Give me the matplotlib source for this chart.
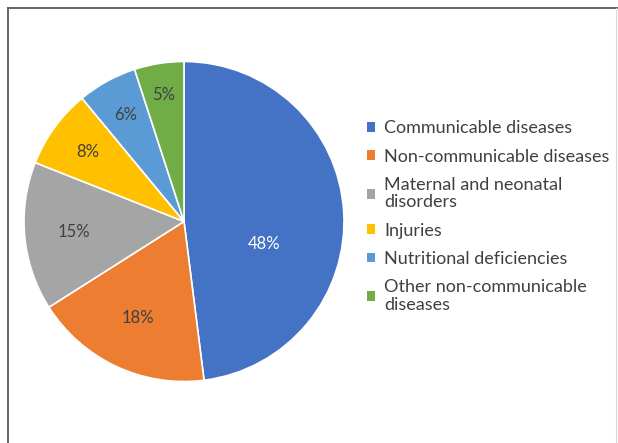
import numpy as np
import matplotlib.pyplot as plt
from matplotlib.patches import Patch
from matplotlib.lines import Line2D

plt.rcParams['font.family'] = ['Lato', 'DejaVu Sans']

categories = ['Communicable diseases', 'Non-communicable diseases',
              'Maternal and neonatal\ndisorders', 'Injuries',
              'Nutritional deficiencies', 'Other non-communicable\ndiseases']
shares = [48, 18, 15, 8, 6, 5]
colors = ['#4472C4', '#ED7D31', '#A5A5A5', '#FFC000', '#5B9BD5', '#70AD47']

fig = plt.figure(figsize=(6.18, 4.43), dpi=100)

# outer frame (top and left lines like the source)
fig.add_artist(Line2D([8/618, 8/618], [0, 1 - 8/443], color='#595959', lw=1.3))
fig.add_artist(Line2D([8/618, 1], [1 - 8/443, 1 - 8/443], color='#595959', lw=1.3))
fig.add_artist(Line2D([616/618, 616/618], [0, 1 - 8/443], color='#d9d9d9', lw=0.8))

ax = fig.add_axes([24/618, (443 - 381.5)/443, 320/618, 320/443])
wedges, texts = ax.pie(shares, colors=colors, startangle=90, counterclock=False,
                       wedgeprops=dict(edgecolor='white', linewidth=1.2))
ax.set_xlim(-1, 1)
ax.set_ylim(-1, 1)
ax.set_aspect('equal')

# label placement, roughly like Excel's best fit
dists = [0.5, 0.67, 0.69, 0.74, 0.76, 0.8]
for w, s, d in zip(wedges, shares, dists):
    ang = np.deg2rad((w.theta1 + w.theta2) / 2)
    x, y = d * np.cos(ang), d * np.sin(ang)
    if s == 48:
        y -= 0.17
    ax.text(x, y, f'{s}%', ha='center', va='center', fontsize=12,
            color='white' if s == 48 else '#404040')

handles = [Patch(facecolor=c, edgecolor='none') for c in colors]
leg = fig.legend(handles, categories, loc='upper left', bbox_to_anchor=(351/618, 1 - 104/443),
                 frameon=False, fontsize=13, handlelength=0.45, handleheight=0.45,
                 handletextpad=0.5, labelspacing=0.68, labelcolor='#404040')
for t in leg.get_texts():
    t.set_linespacing(1.12)

fig.savefig('out.png', dpi=100)
